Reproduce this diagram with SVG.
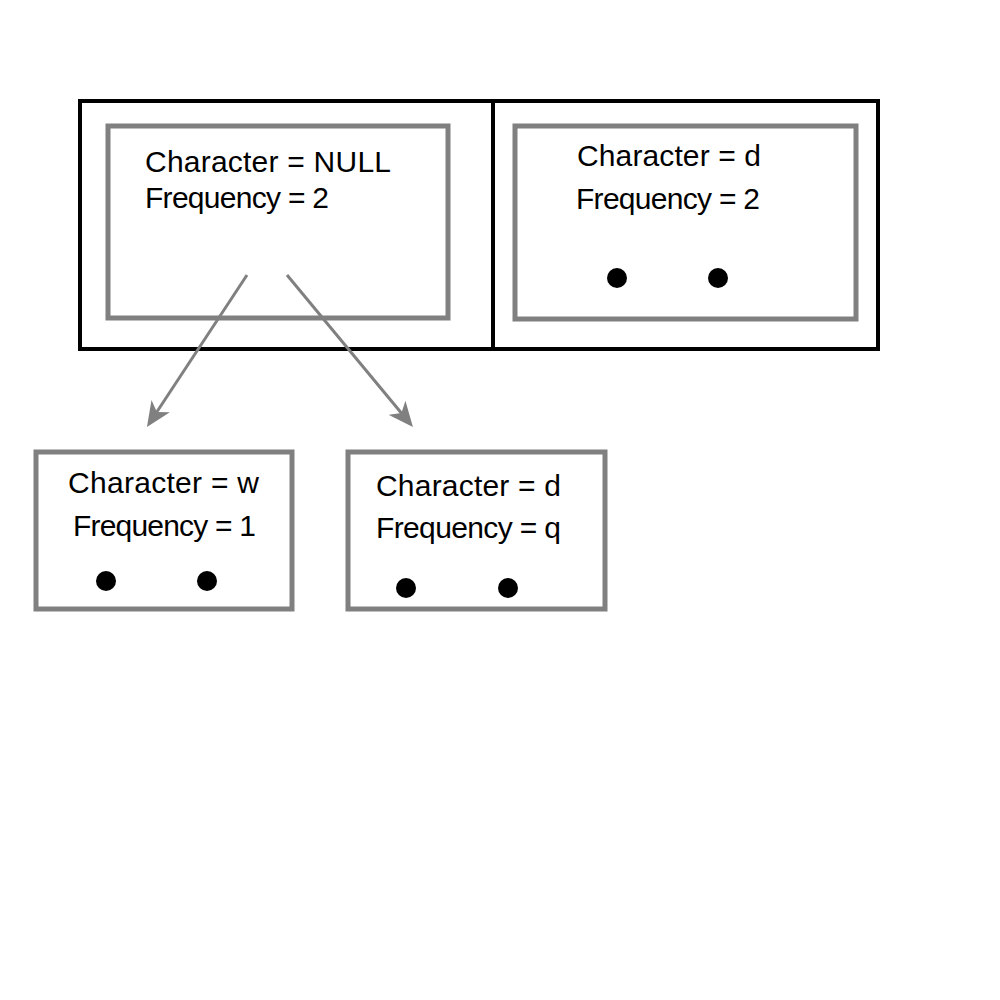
<svg xmlns="http://www.w3.org/2000/svg" width="1000" height="1000" viewBox="0 0 1000 1000">
<style>
.outer{fill:none;stroke:#000;stroke-width:4}
.inner{fill:none;stroke:#808080;stroke-width:5}
.t{font-family:"Liberation Sans",Arial,sans-serif;font-size:30px;fill:#000}
.dot{fill:#000}
.conn{stroke:#808080;stroke-width:3;fill:none}
</style>
<defs>
<marker id="arr" markerWidth="26" markerHeight="22" refX="14" refY="11" orient="auto" markerUnits="userSpaceOnUse" viewBox="0 0 26 22">
<path d="M0,0 L25,11 L0,22 L7,11 Z" fill="#808080"/>
</marker>
</defs>
<rect width="1000" height="1000" fill="#fff"/>
<g id="outer-left"><rect class="outer" x="80" y="101" width="413" height="248"/></g>
<g id="outer-right"><rect class="outer" x="493" y="101" width="385" height="248"/></g>
<g id="node-null">
<rect class="inner" x="108" y="126" width="340" height="192"/>
<text class="t" x="145" y="172" textLength="246" lengthAdjust="spacing">Character = NULL</text>
<text class="t" x="145" y="208" textLength="184" lengthAdjust="spacing">Frequency = 2</text>
</g>
<g id="node-d-top">
<rect class="inner" x="515" y="126" width="341" height="193"/>
<text class="t" x="577" y="166" textLength="184" lengthAdjust="spacing">Character = d</text>
<text class="t" x="576" y="209" textLength="184" lengthAdjust="spacing">Frequency = 2</text>
<circle class="dot" cx="617" cy="278" r="10"/>
<circle class="dot" cx="718" cy="278" r="10"/>
</g>
<g id="node-w">
<rect class="inner" x="36" y="452" width="256" height="157"/>
<text class="t" x="68" y="493" textLength="191" lengthAdjust="spacing">Character = w</text>
<text class="t" x="73" y="536" textLength="183" lengthAdjust="spacing">Frequency = 1</text>
<circle class="dot" cx="106" cy="581" r="10"/>
<circle class="dot" cx="207" cy="581" r="10"/>
</g>
<g id="node-d-bottom">
<rect class="inner" x="348" y="452" width="257" height="157"/>
<text class="t" x="376" y="496" textLength="185" lengthAdjust="spacing">Character = d</text>
<text class="t" x="376" y="538" textLength="185" lengthAdjust="spacing">Frequency = q</text>
<circle class="dot" cx="406" cy="588" r="10"/>
<circle class="dot" cx="508" cy="588" r="10"/>
</g>
<g id="connectors">
<line class="conn" x1="247" y1="275" x2="153" y2="417.8" marker-end="url(#arr)"/>
<line class="conn" x1="287" y1="275" x2="405.9" y2="418.5" marker-end="url(#arr)"/>
</g>
</svg>
